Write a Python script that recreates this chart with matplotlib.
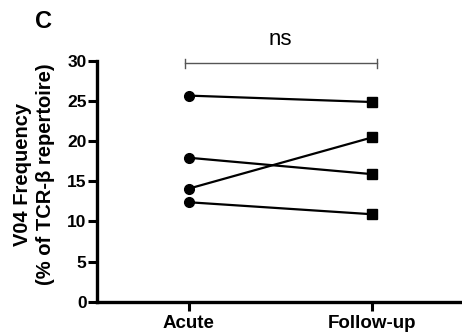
import numpy as np
import matplotlib.pyplot as plt

# paired V04 frequencies (% of TCR-beta repertoire)
groups = ["Acute", "Follow-up"]
acute = [25.7, 17.95, 14.1, 12.4]
follow_up = [24.9, 15.9, 20.5, 10.9]
y_ticks = [0, 5, 10, 15, 20, 25, 30]
sig_label = "ns"

plt.rcParams["font.family"] = ["Liberation Sans", "DejaVu Sans"]

fig = plt.figure(figsize=(4.62, 3.35), dpi=100)
ax = fig.add_axes([0.21, 0.0995, 0.795, 0.718])

x = np.arange(len(groups))
for a, f in zip(acute, follow_up):
    ax.plot(x, [a, f], color="black", lw=1.6, zorder=2)
    ax.plot(x[0], a, "o", color="black", ms=7, zorder=3)
    ax.plot(x[1], f, "s", color="black", ms=7, zorder=3)

# significance bracket
bx = [x[0] - 0.022, x[1] + 0.022]
ax.plot(bx, [29.75, 29.75], color="#555555", lw=1.0, clip_on=False)
for xi in bx:
    ax.plot([xi, xi], [29.1, 30.3], color="#555555", lw=1.0, clip_on=False)
ax.text(x.mean(), 31.4, sig_label, ha="center", va="bottom", fontsize=16,
        clip_on=False)

ax.set_xlim(-0.5, 1.5)
ax.set_ylim(0, 30)
ax.set_yticks(y_ticks)
ax.set_xticks(x)
ax.set_xticklabels(groups, fontweight="bold", fontsize=13.5)
for lab in ax.get_yticklabels():
    lab.set_fontweight("bold")
    lab.set_fontsize(12.5)

ax.spines[["top", "right"]].set_visible(False)
for s in ["left", "bottom"]:
    ax.spines[s].set_linewidth(2.4)
ax.tick_params(width=2.2, length=6.5, pad=1)
ax.tick_params(axis="x", pad=3)

ax.set_ylabel("V04 Frequency\n(% of TCR-β repertoire)", fontweight="bold",
              fontsize=14.5, linespacing=1.25, labelpad=8)
ax.yaxis.set_label_coords(-0.115, 0.53)
fig.text(0.076, 0.936, "C", fontsize=17, fontweight="bold", va="center")

fig.savefig("out.png", dpi=100)
